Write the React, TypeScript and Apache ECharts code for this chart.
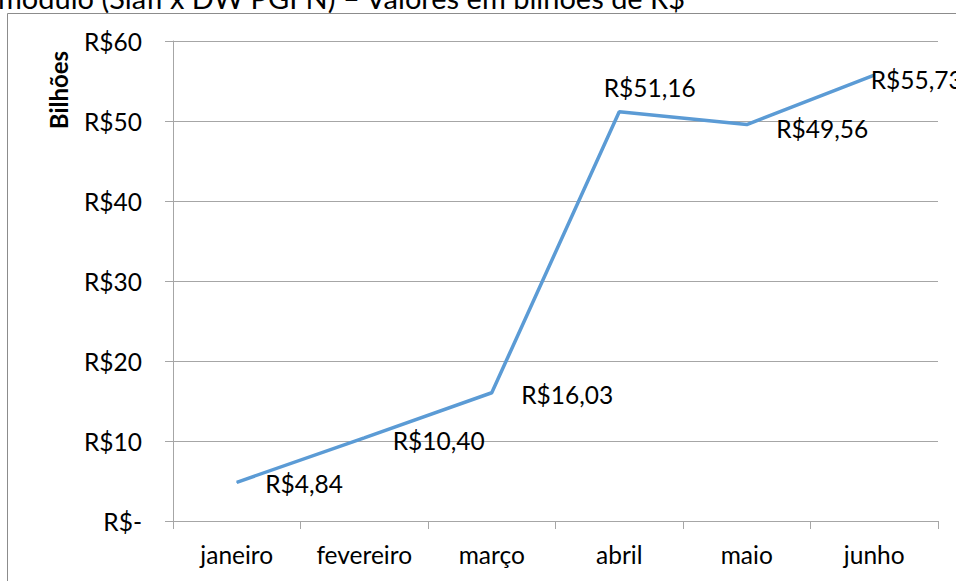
import React, { useEffect, useRef } from "react";
import * as echarts from "echarts";

const categories = ["janeiro", "fevereiro", "março", "abril", "maio", "junho"];
const values = [4.84, 10.4, 16.03, 51.16, 49.56, 55.73];
const yTicks = { min: 0, max: 60, interval: 10 };
const titleText = "módulo (Siafi x DW PGFN) – Valores em bilhões de R$";
const axisTitle = "Bilhões";

// label offsets (style only) relative to each point
const labelOffsets: [number, number][] = [
  [28, 1],
  [28, 3],
  [29, 2],
  [-16, -24],
  [29, 4],
  [-4, 4],
];

const FONT = "Lato, 'Open Sans', sans-serif";
const FS = 24.5;

export default function App() {
  const ref = useRef<HTMLDivElement>(null);
  useEffect(() => {
    const chart = echarts.init(ref.current!, null, { renderer: "svg" });
    const fmt = (v: number) => v.toFixed(2).replace(".", ",");
    chart.setOption({
      animation: false,
      backgroundColor: "#ffffff",
      grid: { left: 173, right: 18, top: 41, bottom: 60, containLabel: false },
      xAxis: {
        type: "category",
        data: categories,
        boundaryGap: true,
        axisLine: { lineStyle: { color: "#a6a6a6", width: 1 } },
        axisTick: { show: true, length: 8, alignWithLabel: false, lineStyle: { color: "#a6a6a6" } },
        axisLabel: { color: "#000", fontSize: FS, fontFamily: FONT, margin: 21 },
        splitLine: { show: false },
      },
      yAxis: {
        type: "value",
        min: yTicks.min,
        max: yTicks.max,
        interval: yTicks.interval,
        axisLine: { show: true, lineStyle: { color: "#a6a6a6", width: 1 } },
        axisTick: { show: true, length: 8, lineStyle: { color: "#a6a6a6" } },
        axisLabel: {
          color: "#000",
          fontSize: FS,
          fontFamily: FONT,
          margin: 31,
          formatter: (v: number) => (v === 0 ? "R$-" : "R$" + v),
        },
        splitLine: { show: true, lineStyle: { color: "#a6a6a6", width: 1 } },
      },
      series: [
        {
          type: "line",
          data: values.map((v, i) => ({
            value: v,
            label: {
              show: true,
              position: "right",
              distance: 0,
              offset: labelOffsets[i],
            },
          })),
          symbol: "circle",
          symbolSize: 1,
          showSymbol: true,
          lineStyle: { color: "#5b9bd5", width: 3.5 },
          itemStyle: { color: "#5b9bd5" },
          label: {
            show: true,
            color: "#000",
            fontSize: FS,
            fontFamily: FONT,
            formatter: (p: any) => "R$" + fmt(p.value),
          },
        },
      ],
      graphic: [
        {
          type: "rect",
          shape: { x: 7.5, y: 13.5, width: 1000, height: 700 },
          style: { fill: "none", stroke: "#8c8c8c", lineWidth: 1 },
          silent: true,
          z: -1,
        },
        {
          type: "text",
          x: -2,
          y: 12,
          style: {
            text: titleText,
            fontSize: 29,
            fontFamily: FONT,
            fill: "#000",
            verticalAlign: "bottom",
          },
        },
        {
          type: "text",
          x: 58,
          y: 90,
          rotation: Math.PI / 2,
          style: {
            text: axisTitle,
            fontSize: 24,
            fontWeight: "bold",
            fontFamily: FONT,
            fill: "#000",
            align: "center",
            verticalAlign: "middle",
          },
        },
      ],
    });
    return () => chart.dispose();
  }, []);
  return (
    <div
      ref={ref}
      style={{ position: "fixed", left: 0, top: 0, width: 956, height: 581 }}
    />
  );
}
